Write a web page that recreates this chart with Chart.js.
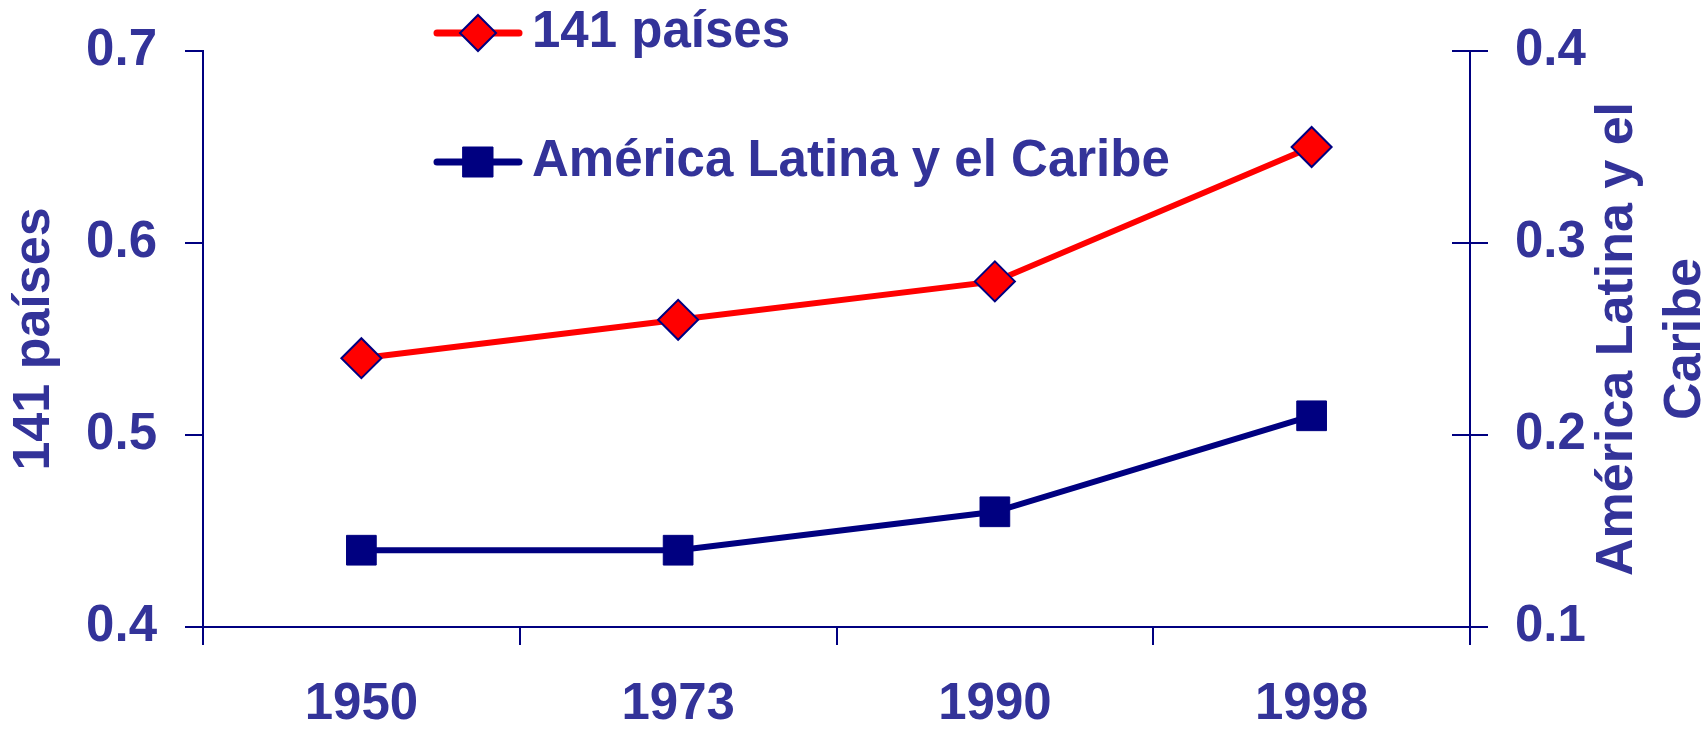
<!DOCTYPE html>
<html>
<head>
<meta charset="utf-8">
<script src="https://cdn.jsdelivr.net/npm/chart.js@4.4.1/dist/chart.umd.min.js"></script>
<style>
  body { margin: 0; background: #ffffff; }
  #wrap { width: 1704px; height: 730px; }
</style>
</head>
<body>
<div id="wrap"><canvas id="chart" width="1704" height="730"></canvas></div>
<script>
// --- Data ---
const years = ["1950", "1973", "1990", "1998"];
const paises141 = [0.54, 0.56, 0.58, 0.65];
const americaLatina = [0.14, 0.14, 0.16, 0.21];
const leftTicks = [0.4, 0.5, 0.6, 0.7];
const rightTicks = [0.1, 0.2, 0.3, 0.4];
const leftTitle = "141 países";
const rightTitle = ["América Latina y el", "Caribe"];

const NAVY = "#000080";
const TEXT = "#333399";
const RED = "#ff0000";
const FONT = "'Liberation Sans', Arial, sans-serif";
const bigFont = { family: FONT, size: 51, weight: "bold", lineHeight: 1.2 };

Chart.defaults.font.family = FONT;

// legend drawn inside the plot, two rows
const insideLegend = {
  id: "insideLegend",
  afterDatasetsDraw(chart) {
    const ctx = chart.ctx;
    const rowsY = [33, 162];
    chart.data.datasets.forEach((ds, i) => {
      const y = rowsY[i];
      ctx.save();
      ctx.strokeStyle = ds.borderColor;
      ctx.lineWidth = 7;
      ctx.lineCap = "round";
      ctx.beginPath();
      ctx.moveTo(437, y);
      ctx.lineTo(519, y);
      ctx.stroke();

      ctx.fillStyle = ds.pointBackgroundColor;
      ctx.strokeStyle = ds.pointBorderColor;
      ctx.lineWidth = ds.pointBorderWidth;
      ctx.beginPath();
      if (ds.pointStyle === "rectRot") {
        const r = 18;
        ctx.moveTo(478, y - r);
        ctx.lineTo(478 + r, y);
        ctx.lineTo(478, y + r);
        ctx.lineTo(478 - r, y);
        ctx.closePath();
      } else {
        ctx.rect(478 - 15, y - 15, 30, 30);
      }
      ctx.fill();
      ctx.stroke();

      ctx.fillStyle = TEXT;
      ctx.font = "bold 51px " + FONT;
      ctx.textAlign = "left";
      ctx.textBaseline = "middle";
      ctx.fillText(ds.label, 532, y);
      ctx.restore();
    });
  },
};

// right axis: ticks cross the axis line, title reads bottom to top
const rightAxisExtras = {
  id: "rightAxisExtras",
  afterDraw(chart) {
    const ctx = chart.ctx;
    const scale = chart.scales.y2;
    ctx.save();
    ctx.strokeStyle = NAVY;
    ctx.lineWidth = 2;
    scale.ticks.forEach((t) => {
      const y = Math.round(scale.getPixelForValue(t.value));
      ctx.beginPath();
      ctx.moveTo(scale.left - 18, y);
      ctx.lineTo(scale.left, y);
      ctx.stroke();
    });

    const cy = (chart.chartArea.top + chart.chartArea.bottom) / 2;
    ctx.translate(1632, cy);
    ctx.rotate(-Math.PI / 2);
    ctx.fillStyle = TEXT;
    ctx.font = "bold 52px " + FONT;
    ctx.textAlign = "center";
    ctx.textBaseline = "alphabetic";
    rightTitle.forEach((line, i) => {
      ctx.fillText(line, 0, i * 68);
    });
    ctx.restore();
  },
};

const fitY = (width) => (s) => {
  s.width = width;
  s.paddingTop = 0;
  s.paddingBottom = 0;
};

new Chart(document.getElementById("chart"), {
  type: "line",
  data: {
    labels: years,
    datasets: [
      {
        label: "141 países",
        data: paises141,
        yAxisID: "y",
        borderColor: RED,
        borderWidth: 6,
        tension: 0,
        pointStyle: "rectRot",
        pointRadius: 20,
        pointBackgroundColor: RED,
        pointBorderColor: NAVY,
        pointBorderWidth: 2,
      },
      {
        label: "América Latina y el Caribe",
        data: americaLatina,
        yAxisID: "y2",
        borderColor: NAVY,
        borderWidth: 6,
        tension: 0,
        pointStyle: "rect",
        pointRadius: 21,
        pointBackgroundColor: NAVY,
        pointBorderColor: NAVY,
        pointBorderWidth: 1,
      },
    ],
  },
  options: {
    responsive: false,
    animation: false,
    events: [],
    devicePixelRatio: 1,
    layout: { autoPadding: false, padding: { top: 51, left: 0, right: 0, bottom: 0 } },
    plugins: {
      legend: { display: false },
      tooltip: { enabled: false },
    },
    scales: {
      x: {
        offset: true,
        grid: { offset: true, drawOnChartArea: false, color: NAVY, lineWidth: 2, tickLength: 18 },
        border: { color: NAVY, width: 2 },
        ticks: { color: TEXT, font: bigFont, padding: 29, maxRotation: 0 },
        afterFit: (s) => {
          s.height = 103;
          s.paddingLeft = 0;
          s.paddingRight = 0;
        },
      },
      y: {
        position: "left",
        min: 0.4,
        max: 0.7,
        afterBuildTicks: (s) => { s.ticks = leftTicks.map((v) => ({ value: v })); },
        grid: { drawOnChartArea: false, color: NAVY, lineWidth: 2, tickLength: 18 },
        border: { color: NAVY, width: 2 },
        ticks: { color: TEXT, font: bigFont, padding: 28, callback: (v) => Number(v).toFixed(1) },
        title: { display: true, text: leftTitle, color: TEXT, font: { family: FONT, size: 52, weight: "bold", lineHeight: 1.2 }, padding: { top: 3, bottom: 0 } },
        afterFit: fitY(203),
      },
      y2: {
        position: "right",
        min: 0.1,
        max: 0.4,
        afterBuildTicks: (s) => { s.ticks = rightTicks.map((v) => ({ value: v })); },
        grid: { drawOnChartArea: false, color: NAVY, lineWidth: 2, tickLength: 18 },
        border: { color: NAVY, width: 2 },
        ticks: { color: TEXT, font: bigFont, padding: 27, callback: (v) => Number(v).toFixed(1) },
        afterFit: fitY(234),
      },
    },
  },
  plugins: [insideLegend, rightAxisExtras],
});
</script>
</body>
</html>
